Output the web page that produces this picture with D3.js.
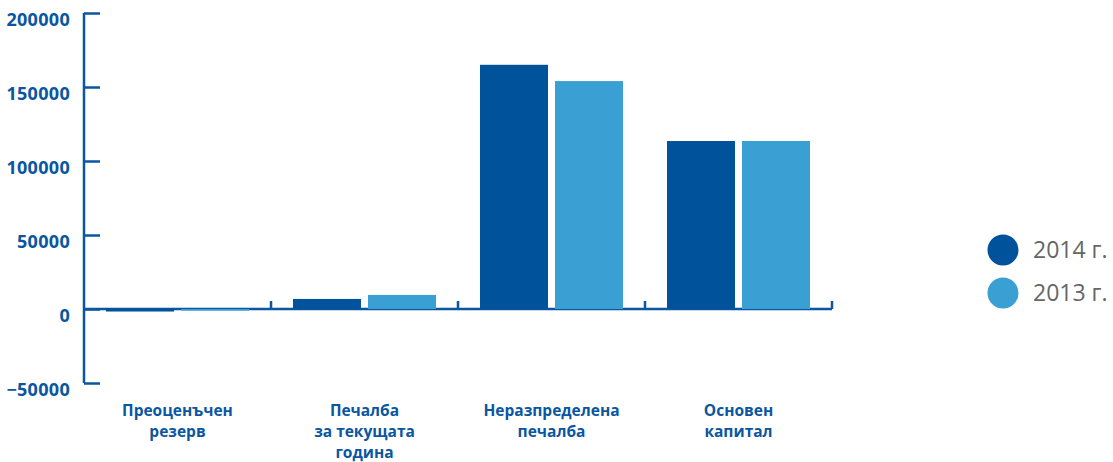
<!DOCTYPE html>
<html>
<head>
<meta charset="utf-8">
<script src="https://cdn.jsdelivr.net/npm/d3@7"></script>
<style>
  html, body { margin: 0; padding: 0; background: #fff; }
  svg { display: block; }
</style>
</head>
<body>
<svg id="chart" width="1113" height="462"></svg>
<script>
// Capital structure by component, 2014 vs 2013
const categories = [
  ["Преоценъчен", "резерв"],
  ["Печалба", "за текущата", "година"],
  ["Неразпределена", "печалба"],
  ["Основен", "капитал"]
];
const categoryKeys = ["reval", "profit", "retained", "capital"];
const seriesNames = ["2014 г.", "2013 г."];
const values2014 = [-1700, 6800, 165000, 113500];
const values2013 = [-1100, 9500, 154000, 113500];
const yTicks = [-50000, 0, 50000, 100000, 150000, 200000];

const colors = ["#00529b", "#3a9fd3"];
const axisColor = "#0a56a0";

const svg = d3.select("#chart");

const x = d3.scaleBand().domain(categoryKeys).range([84, 832]).padding(0);
const xInner = d3.scaleBand().domain([0, 1]).range([0, x.bandwidth()])
  .paddingInner(7 / 75).paddingOuter(22 / 75);
const y = d3.scaleLinear().domain([-50000, 200000]).range([383, 13]);

// y axis: ticks point inward, labels on the left, set slightly below each tick
const yAxis = svg.append("g").attr("transform", "translate(84,0)")
  .call(d3.axisLeft(y).tickValues(yTicks).tickSize(-16).tickPadding(14).tickFormat(d3.format("d")));
yAxis.select(".domain").attr("stroke", axisColor).attr("stroke-width", 2.5)
  .attr("d", `M0,${y(-50000)}V${y(200000)}`);
yAxis.selectAll(".tick line").attr("stroke", axisColor).attr("stroke-width", 2.5);
yAxis.selectAll(".tick text")
  .attr("dy", "0.68em")
  .attr("fill", axisColor)
  .style("font-family", "'Open Sans', sans-serif")
  .style("font-weight", "700")
  .style("font-size", "18px")
  .style("letter-spacing", "0.3px");

// category axis along zero line, boundary ticks pointing up
const xAxis = svg.append("g");
xAxis.append("line")
  .attr("x1", x.range()[0]).attr("x2", x.range()[1])
  .attr("y1", y(0)).attr("y2", y(0))
  .attr("stroke", axisColor).attr("stroke-width", 2.5);
xAxis.selectAll("line.tick").data(categoryKeys).join("line")
  .attr("class", "tick")
  .attr("x1", d => x(d) + x.bandwidth()).attr("x2", d => x(d) + x.bandwidth())
  .attr("y1", y(0)).attr("y2", y(0) - 8)
  .attr("stroke", axisColor).attr("stroke-width", 2.5);

// bars, drawn over the zero line
const rows = categoryKeys.map((k, i) => ({ key: k, vals: [values2014[i], values2013[i]] }));
const groups = svg.append("g").selectAll("g").data(rows).join("g")
  .attr("transform", d => `translate(${x(d.key)},0)`);
groups.selectAll("rect").data(d => d.vals.map((v, s) => ({ v, s }))).join("rect")
  .attr("x", d => xInner(d.s))
  .attr("width", xInner.bandwidth())
  .attr("y", d => Math.min(y(d.v), y(0)))
  .attr("height", d => Math.abs(y(d.v) - y(0)))
  .attr("fill", d => colors[d.s]);

// category labels
const labels = svg.append("g").selectAll("text").data(categoryKeys).join("text")
  .attr("x", d => x(d) + x.bandwidth() / 2)
  .attr("y", 416)
  .attr("text-anchor", "middle")
  .attr("fill", axisColor)
  .style("font-family", "'Open Sans', sans-serif")
  .style("font-weight", "700")
  .style("font-size", "15.5px");
labels.selectAll("tspan").data((d, i) => categories[i]).join("tspan")
  .attr("x", function () { return d3.select(this.parentNode).attr("x"); })
  .attr("dy", (d, i) => i === 0 ? 0 : 21)
  .text(d => d);

// legend
const legend = svg.append("g").selectAll("g").data(seriesNames).join("g")
  .attr("transform", (d, i) => `translate(1003,${250 + i * 43})`);
legend.append("circle").attr("r", 15.5).attr("fill", (d, i) => colors[i]);
legend.append("text")
  .attr("x", 30).attr("dy", "0.36em")
  .attr("fill", "#666")
  .style("font-family", "'Open Sans', sans-serif")
  .style("font-size", "23px")
  .text(d => d);
</script>
</body>
</html>
